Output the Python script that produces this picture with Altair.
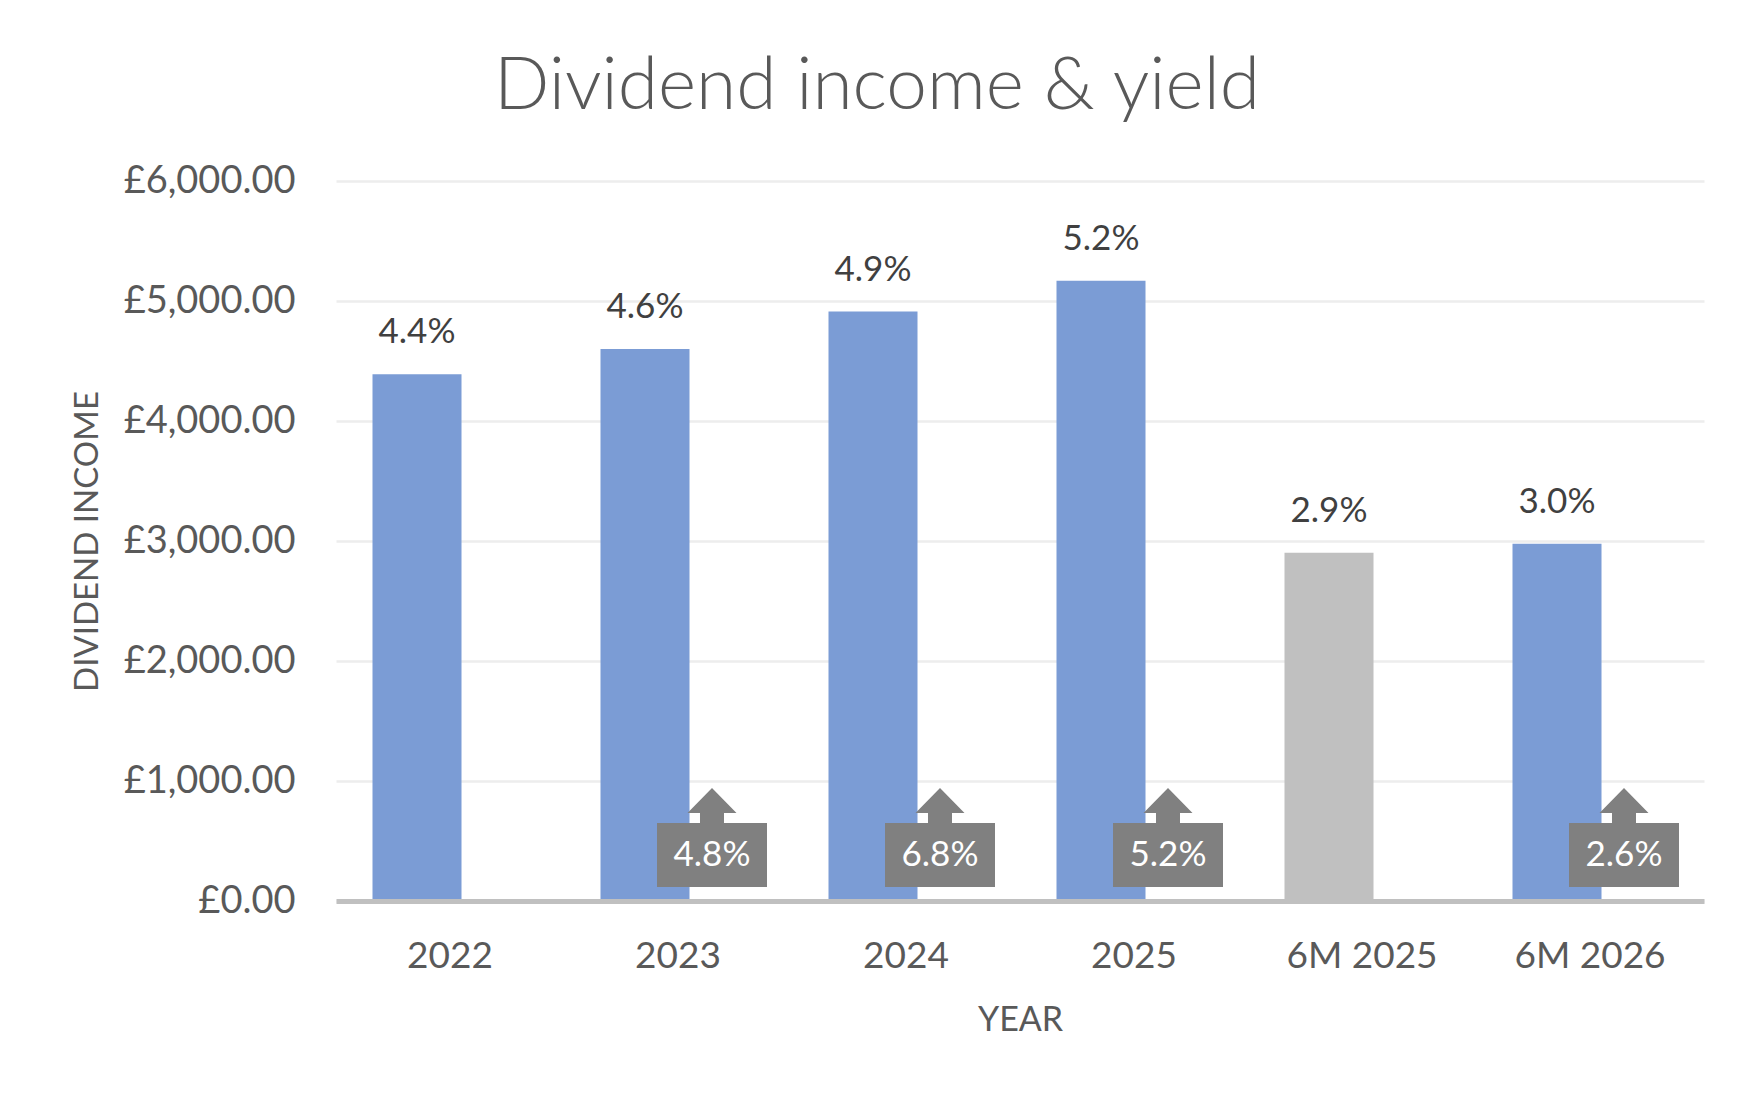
import altair as alt
import pandas as pd

# ---- data ----
categories = ["2022", "2023", "2024", "2025", "6M 2025", "6M 2026"]
income = [4390, 4600, 4912, 5168, 2902, 2978]
yield_labels = ["4.4%", "4.6%", "4.9%", "5.2%", "2.9%", "3.0%"]
period = ["Full year", "Full year", "Full year", "Full year", "Half year prior", "Half year"]

growth_categories = ["2023", "2024", "2025", "6M 2026"]
growth_labels = ["4.8%", "6.8%", "5.2%", "2.6%"]

period_domain = ["Full year", "Half year prior", "Half year"]
period_colors = ["#7B9CD5", "#C0C0C0", "#7B9CD5"]

FONT = "Lato"
AXIS_GREY = "#595959"
LABEL_GREY = "#404040"
BOX_GREY = "#808080"

main = pd.DataFrame({"cat": categories, "income": income,
                     "yield": yield_labels, "period": period})
growth = pd.DataFrame({"cat": growth_categories, "growth": growth_labels})

x_enc = alt.X("cat:N", sort=categories,
              scale=alt.Scale(domain=categories, paddingInner=0, paddingOuter=0),
              axis=alt.Axis(title="YEAR", labelAngle=0, ticks=False,
                            domainColor="#C0C0C0", domainWidth=5,
                            labelFont=FONT, labelFontSize=37, labelColor=AXIS_GREY,
                            labelBaseline="alphabetic", labelPadding=66,
                            titleFont=FONT, titleFontSize=34, titleFontWeight="normal",
                            titleColor=AXIS_GREY, titleBaseline="alphabetic",
                            titleY=129, zindex=1))

y_scale = alt.Scale(domain=[0, 6000], nice=False)

bars = alt.Chart(main).mark_bar(width=89, xOffset=-33).encode(
    x=x_enc,
    y=alt.Y("income:Q", scale=y_scale,
            axis=alt.Axis(title="DIVIDEND INCOME", values=[0, 1000, 2000, 3000, 4000, 5000, 6000],
                          labelExpr="'£' + format(datum.value, ',.2f')",
                          ticks=False, domain=False, labelPadding=41,
                          labelFont=FONT, labelFontSize=38, labelColor=AXIS_GREY,
                          gridColor="#EDEDED", gridWidth=2.5,
                          titleFont=FONT, titleFontSize=33, titleFontWeight="normal",
                          titleColor=AXIS_GREY, titleAngle=-90, titleAlign="center",
                          titleBaseline="middle", titleX=-249, titleY=360)),
    color=alt.Color("period:N", scale=alt.Scale(domain=period_domain, range=period_colors),
                    legend=None),
)

bar_labels = alt.Chart(main).mark_text(
    xOffset=-33, dy=-31, baseline="alphabetic", align="center",
    font=FONT, fontSize=35, color=LABEL_GREY
).encode(
    x=alt.X("cat:N", sort=categories),
    y=alt.Y("income:Q", scale=y_scale),
    text="yield:N",
)

boxes = alt.Chart(growth).mark_bar(
    width=110, xOffset=34, yOffset=-78, y2Offset=-14, color=BOX_GREY
).encode(
    x=alt.X("cat:N", sort=categories),
    y=alt.datum(0, scale=y_scale),
    y2=alt.datum(0),
)

arrow_path = "M0,-0.714L1,0.306L0.49,0.306L0.49,0.714L-0.49,0.714L-0.49,0.306L-1,0.306Z"
arrows = alt.Chart(growth).mark_point(
    shape=arrow_path, size=2401, filled=True, opacity=1, strokeWidth=0,
    color=BOX_GREY, xOffset=34, yOffset=-95.5
).encode(
    x=alt.X("cat:N", sort=categories),
    y=alt.datum(0, scale=y_scale),
)

box_text = alt.Chart(growth).mark_text(
    xOffset=34, yOffset=-46, baseline="middle", align="center",
    font=FONT, fontSize=35, color="white"
).encode(
    x=alt.X("cat:N", sort=categories),
    y=alt.datum(0, scale=y_scale),
    text="growth:N",
)

chart = alt.layer(bars, bar_labels, boxes, arrows, box_text).properties(
    width=1368, height=720,
    background="white",
    title=alt.TitleParams("Dividend income & yield", font=FONT, fontSize=73,
                          fontWeight=300, color=AXIS_GREY, anchor="middle",
                          frame="group", dx=-143, dy=95, offset=75, baseline="alphabetic"),
    autosize=alt.AutoSizeParams(type="none"),
    padding={"left": 328, "top": 173, "right": 46, "bottom": 192},
).configure_view(stroke=None)

chart.save("out.html", embed_options={"renderer": "svg", "actions": False})
